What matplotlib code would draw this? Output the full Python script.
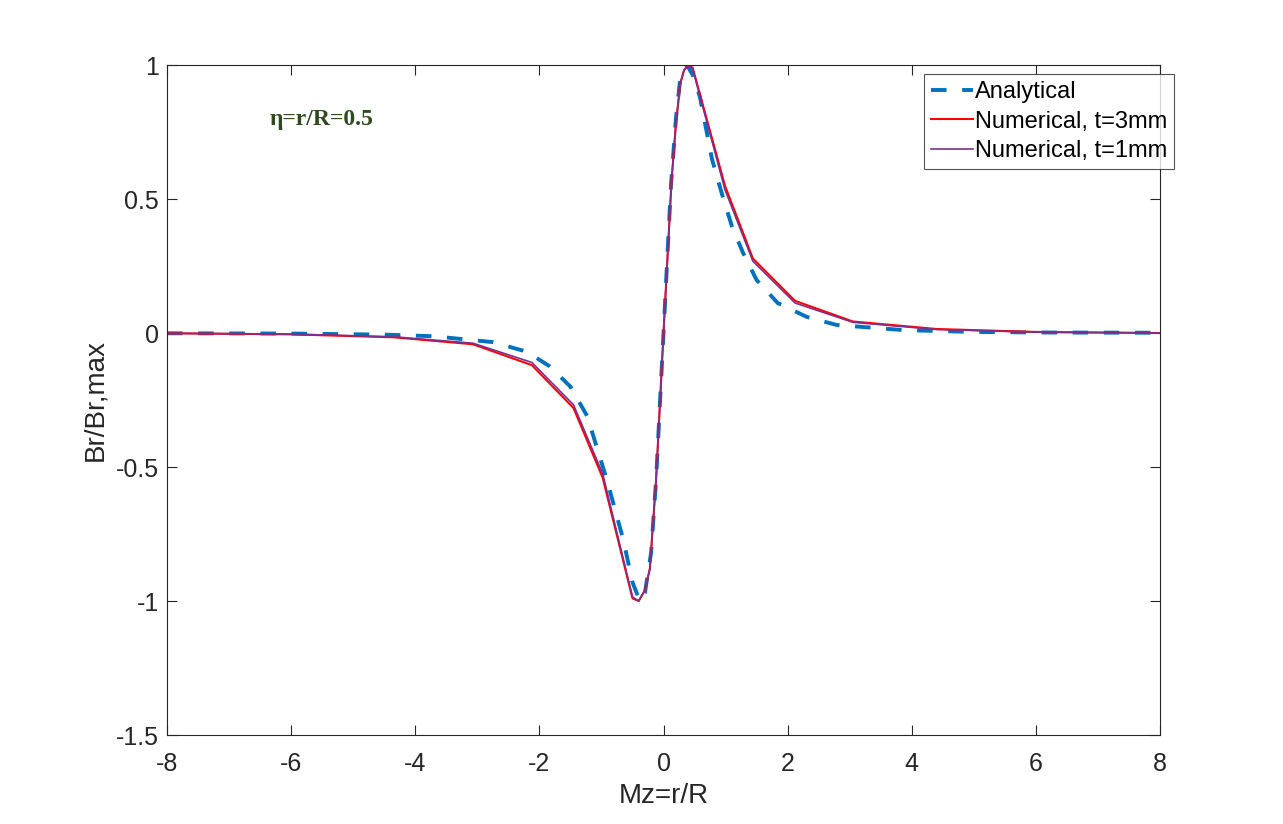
import numpy as np
import matplotlib
matplotlib.use("Agg")
import matplotlib.pyplot as plt

# values
x_an = [-8, -6, -4.5, -3.71, -2.75, -2.2, -1.83, -1.5, -1.23, -0.91, -0.65, -0.5, -0.38,
        -0.3, -0.2, -0.12, 0, 0.12, 0.2, 0.27, 0.38, 0.5, 0.59, 0.78, 0.94, 1.1, 1.28,
        1.5, 1.84, 2.31, 2.79, 3.86, 5, 6, 8]
y_an = [-0.001, -0.002, -0.006, -0.012, -0.034, -0.07, -0.125, -0.2, -0.31, -0.55, -0.77, -0.93, -1.0,
        -0.97, -0.82, -0.55, 0, 0.55, 0.8, 0.95, 1.0, 0.95, 0.877, 0.65, 0.52, 0.40, 0.30,
        0.198, 0.112, 0.06, 0.03, 0.011, 0.004, 0.002, 0.001]

x_num3 = [-8, -6, -4.35, -3.07, -2.12, -1.45, -0.98, -0.5, -0.4, -0.3, -0.22, -0.12, 0,
          0.13, 0.2, 0.27, 0.33, 0.4, 0.47, 0.99, 1.44, 2.12, 3.05, 4.4, 6, 8]
y_num3 = [-0.001, -0.005, -0.016, -0.042, -0.12, -0.28, -0.54, -0.99, -1.0, -0.96, -0.88, -0.55, 0,
          0.57, 0.78, 0.93, 0.98, 1.0, 0.99, 0.55, 0.278, 0.12, 0.043, 0.015, 0.004, 0.0]

x_num1 = [-8, -6, -4.35, -3.07, -2.12, -1.45, -0.98, -0.5, -0.4, -0.3, -0.22, -0.12, 0,
          0.13, 0.2, 0.27, 0.33, 0.4, 0.47, 0.99, 1.44, 2.12, 3.05, 4.4, 6, 8]
y_num1 = [-0.001, -0.004, -0.014, -0.038, -0.11, -0.268, -0.525, -0.985, -1.0, -0.96, -0.88, -0.55, 0,
          0.57, 0.78, 0.93, 0.98, 1.0, 0.985, 0.535, 0.268, 0.112, 0.04, 0.013, 0.003, 0.0]

xticks = [-8, -6, -4, -2, 0, 2, 4, 6, 8]
yticks = [-1.5, -1, -0.5, 0, 0.5, 1]
ytick_labels = ["-1.5", "-1", "-0.5", "0", "0.5", "1"]

plt.rcParams['font.family'] = ['Liberation Sans', 'DejaVu Sans']

fig = plt.figure(figsize=(12.83, 8.24), dpi=100)
ax = fig.add_axes([0.1302, 0.108, 0.7739, 0.8131])

ax.plot(x_an, y_an, '--', color='#0072BD', lw=2.8, dashes=(4.0, 4.0), label='Analytical')
ax.plot(x_num3, y_num3, '-', color='#FF0000', lw=1.5, label='Numerical, t=3mm')
ax.plot(x_num1, y_num1, '-', color='#7E2F8E', lw=1.2, label='Numerical, t=1mm')

ax.set_xlim(-8, 8)
ax.set_ylim(-1.5, 1)
ax.set_xticks(xticks)
ax.set_xticklabels([str(v) for v in xticks])
ax.set_yticks(yticks)
ax.set_yticklabels(ytick_labels)
ax.tick_params(direction='in', top=True, right=True, length=7, width=0.8,
               labelsize=18, colors='#262626')
ax.tick_params(axis='x', pad=12)
ax.tick_params(axis='y', pad=6)
for sp in ax.spines.values():
    sp.set_linewidth(0.8)
    sp.set_color('#262626')

ax.set_xlabel("Mz=r/R", fontsize=20, color='#262626', labelpad=5)
ax.set_ylabel("Br/Br,max", fontsize=20, color='#262626', labelpad=5)

ax.text(-6.34, 0.795, "η=r/R=0.5", family=['Liberation Serif', 'DejaVu Serif'],
        fontweight='bold', fontsize=17, color='#2E4A1E', va='center', ha='left')

leg = ax.legend(loc='upper right', bbox_to_anchor=(1174/1283, 1 - 74/824),
                bbox_transform=fig.transFigure, fontsize=17, frameon=True,
                fancybox=False, handlelength=1.8, handletextpad=0.05,
                borderpad=0.3, labelspacing=0.32, borderaxespad=0)
leg.get_frame().set_edgecolor('#262626')
leg.get_frame().set_linewidth(0.8)

fig.savefig("out.png", dpi=100)
